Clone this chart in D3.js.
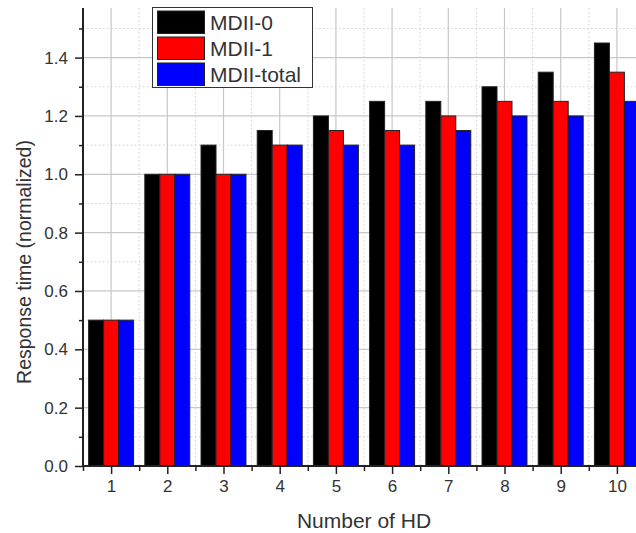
<!DOCTYPE html>
<html><head><meta charset="utf-8">
<script src="https://cdn.jsdelivr.net/npm/d3@7"></script>
<style>
html,body{margin:0;padding:0;background:#fff;}
svg{display:block;font-family:"Liberation Sans",Arial,sans-serif;}
</style></head>
<body>
<svg id="c" width="636" height="533"></svg>
<script>
const categories = [1,2,3,4,5,6,7,8,9,10];
const seriesNames = ["MDII-0","MDII-1","MDII-total"];
const mdii0 = [0.5,1.0,1.1,1.15,1.2,1.25,1.25,1.3,1.35,1.45];
const mdii1 = [0.5,1.0,1.0,1.1,1.15,1.15,1.2,1.25,1.25,1.35];
const mdiiTotal = [0.5,1.0,1.0,1.1,1.1,1.1,1.15,1.2,1.2,1.25];
const yTicks = [0.0,0.2,0.4,0.6,0.8,1.0,1.2,1.4];
const yMinorTicks = [0.1,0.3,0.5,0.7,0.9,1.1,1.3,1.5];
const xMinorTicks = [0.5,1.5,2.5,3.5,4.5,5.5,6.5,7.5,8.5,9.5,10.5];
const colors = ["#000000","#ff0000","#0000ff"];
const seriesValues = [mdii0, mdii1, mdiiTotal];

(function(){
const svg = d3.select("#c");
const pL = 83, pR = 645, pT = 8, pB = 466;
const x = d3.scaleLinear().domain([0.5,10.5]).range([pL,pR]);
const y = d3.scaleLinear().domain([0,1.57]).range([pB,pT]);
const groupW = x(1.4) - x(0.6);
const xs = d3.scaleBand().domain(seriesNames).range([-groupW/2, groupW/2]).padding(0);

const grid = svg.append("g");
grid.selectAll(".vmin").data(xMinorTicks).join("line")
  .attr("x1", d=>x(d)).attr("x2", d=>x(d)).attr("y1", pT).attr("y2", pB)
  .attr("stroke", "#d0d0d0").attr("stroke-width",1).attr("stroke-dasharray","1.5,2.5");
grid.selectAll(".hmin").data(yMinorTicks).join("line")
  .attr("x1", pL).attr("x2", 636).attr("y1", d=>y(d)).attr("y2", d=>y(d))
  .attr("stroke", "#d0d0d0").attr("stroke-width",1).attr("stroke-dasharray","1.5,2.5");
grid.selectAll(".vmaj").data(categories).join("line")
  .attr("x1", d=>x(d)).attr("x2", d=>x(d)).attr("y1", pT).attr("y2", pB)
  .attr("stroke", "#c8c8c8").attr("stroke-width",1.2);
grid.selectAll(".hmaj").data(yTicks.filter(d=>d>0)).join("line")
  .attr("x1", pL).attr("x2", 636).attr("y1", d=>y(d)).attr("y2", d=>y(d))
  .attr("stroke", "#c8c8c8").attr("stroke-width",1.2);

const bars = svg.append("g");
seriesNames.forEach((name, si) => {
  bars.append("g").selectAll("rect").data(categories).join("rect")
    .attr("x", (c) => x(c) + xs(name))
    .attr("width", xs.bandwidth())
    .attr("y", (c,i) => y(seriesValues[si][i]))
    .attr("height", (c,i) => y(0) - y(seriesValues[si][i]))
    .attr("fill", colors[si])
    .attr("stroke", "#222").attr("stroke-width", 1);
});

const yAxis = svg.append("g").attr("transform", `translate(${pL},0)`)
  .call(d3.axisLeft(y).tickValues(yTicks).tickFormat(d3.format(".1f")).tickSize(8).tickSizeOuter(0));
yAxis.attr("font-size", 17).attr("font-family", "Liberation Sans, Arial, sans-serif");
yAxis.select(".domain").remove();
yAxis.selectAll(".tick line").attr("stroke","#222").attr("stroke-width",1.5);
yAxis.selectAll(".tick text").attr("fill","#333").attr("x",-15);
const yAxisMinor = svg.append("g").attr("transform", `translate(${pL},0)`)
  .call(d3.axisLeft(y).tickValues(yMinorTicks).tickFormat("").tickSize(4).tickSizeOuter(0));
yAxisMinor.select(".domain").remove();
yAxisMinor.selectAll(".tick line").attr("stroke","#222").attr("stroke-width",1.5);

const xAxis = svg.append("g").attr("transform", `translate(0,${pB})`)
  .call(d3.axisBottom(x).tickValues(categories).tickFormat(d3.format("d")).tickSize(8).tickSizeOuter(0));
xAxis.attr("font-size", 17).attr("font-family", "Liberation Sans, Arial, sans-serif");
xAxis.select(".domain").remove();
xAxis.selectAll(".tick line").attr("stroke","#222").attr("stroke-width",1.5);
xAxis.selectAll(".tick text").attr("fill","#333").attr("y",14);
const xAxisMinor = svg.append("g").attr("transform", `translate(0,${pB})`)
  .call(d3.axisBottom(x).tickValues(xMinorTicks).tickFormat("").tickSize(5).tickSizeOuter(0));
xAxisMinor.select(".domain").remove();
xAxisMinor.selectAll(".tick line").attr("stroke","#222").attr("stroke-width",1.5);

svg.append("line").attr("x1",pL).attr("x2",pL).attr("y1",pT).attr("y2",pB+1)
  .attr("stroke","#222").attr("stroke-width",2);
svg.append("line").attr("x1",pL-1).attr("x2",636).attr("y1",pB).attr("y2",pB)
  .attr("stroke","#222").attr("stroke-width",2);

svg.append("text").attr("x", 364).attr("y", 528).attr("text-anchor","middle")
  .attr("font-size","21px").attr("fill","#333").text("Number of HD");
svg.append("text").attr("transform","translate(31,262) rotate(-90)").attr("text-anchor","middle")
  .attr("font-size","19.5px").attr("fill","#333").text("Response time (normalized)");

const lg = svg.append("g");
lg.append("rect").attr("x",152.5).attr("y",7.5).attr("width",160).attr("height",80)
  .attr("fill","#fff").attr("stroke","#333").attr("stroke-width",1);
seriesNames.forEach((name, i) => {
  lg.append("rect").attr("x",157.5).attr("y",11 + i*26).attr("width",47).attr("height",22.5)
    .attr("fill",colors[i]).attr("stroke","#222").attr("stroke-width",1);
  lg.append("text").attr("x",210).attr("y",29.5 + i*26).attr("font-size","21px").attr("fill","#333").text(name);
});
})();
</script>
</body></html>
